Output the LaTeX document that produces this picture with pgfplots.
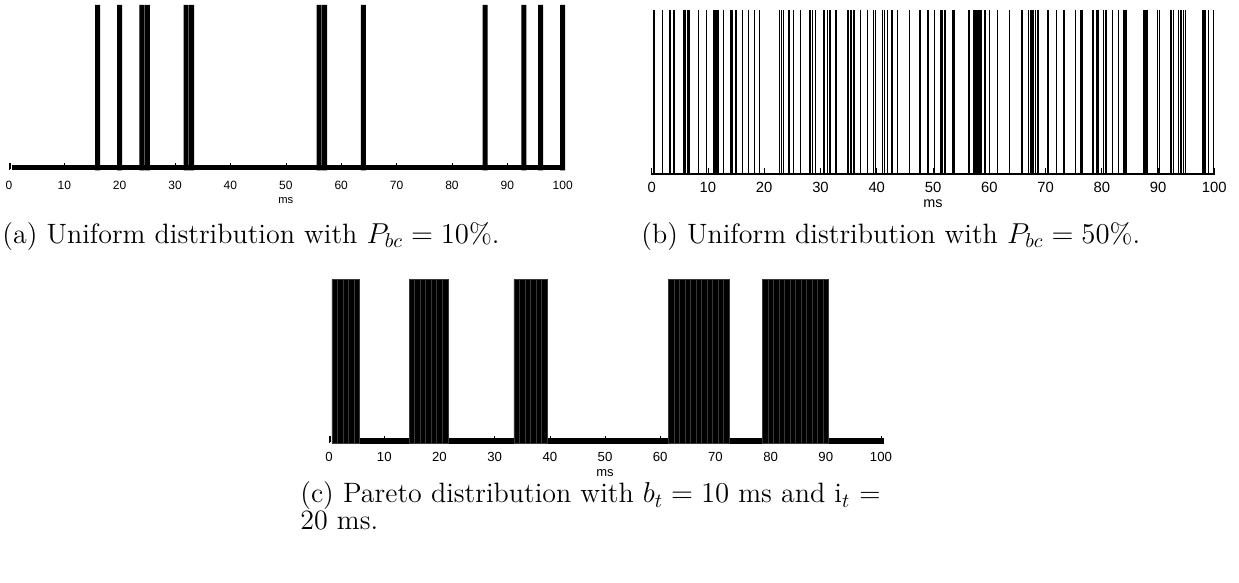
\documentclass[border=0pt]{standalone}
\usepackage{pgfplots}
\pgfplotsset{compat=1.18}
\usepackage{fontspec}
\newfontfamily\helv{Liberation Sans}

% shared look of the three slot plots
\pgfplotsset{
  slots/.style={
    scale only axis, xmin=0, xmax=100, ymin=0, ymax=1, clip=false,
    axis line style={draw=none}, ytick=\empty,
    xtick={0,10,...,100}, xtick pos=bottom, tick align=inside,
    major tick length=3.5pt, tick style={black, line width=0.3pt},
    /pgf/number format/assume math mode=true,
    xlabel={ms},
    xlabel style={at={(axis description cs:0.5,0)}, anchor=center},
  },
}

\begin{document}
\begin{tikzpicture}[x=0.5pt, y=0.5pt]
\useasboundingbox (0,0) rectangle (1239,583);

% ---------------- (a) uniform, 10 % ----------------
\begin{axis}[slots, at={(4.45pt,206.25pt)}, anchor=south west,
    width=276.9pt, height=82.75pt,
    xticklabel style={font=\helv\fontsize{6}{7}\selectfont, yshift=-1.6pt},
    xlabel style={font=\helv\fontsize{5.6}{6}\selectfont, yshift=-15.25pt}]
  \addplot[black, line width=2.8pt] coordinates {(0.55,0.017) (100.45,0.017)};
  \addplot[ybar, bar width=0.9, fill=black, draw=none] coordinates {
    (16,1) (20,1) (24,1) (25,1) (32,1) (33,1) (56,1) (57,1)
    (64,1) (86,1) (93,1) (96,1) (100,1)};
  \draw[line width=0.4pt] (axis cs:0.2,0.01) -- (axis cs:0.2,0.045);
\end{axis}

% ---------------- (b) uniform, 50 % ----------------
\begin{axis}[slots, at={(325.85pt,203.75pt)}, anchor=south west,
    width=281.3pt, height=82.75pt,
    xticklabel style={font=\helv\fontsize{7.4}{8}\selectfont, yshift=0pt},
    xlabel style={font=\helv\fontsize{7.2}{8}\selectfont, yshift=-14pt}]
  \addplot[black, line width=1pt] coordinates {(0,0.006) (100,0.006)};
  \addplot[ycomb, black, line width=0.65pt, no marks] coordinates {
    (0.41,1) (1.96,1) (3.14,1) (3.38,1) (3.97,1) (5.75,1) (6.04,1) (6.40,1)
    (6.64,1) (8.30,1) (9.78,1) (10.96,1) (11.20,1) (11.44,1) (11.73,1) (11.91,1)
    (12.74,1) (14.04,1) (14.28,1) (14.99,1) (16.18,1) (17.19,1) (18.25,1) (19.20,1)
    (22.76,1) (23.05,1) (23.41,1) (24.41,1) (25.19,1) (26.49,1) (28.03,1) (28.27,1)
    (28.62,1) (29.10,1) (30.52,1) (30.76,1) (31.23,1) (31.70,1) (32.77,1) (34.79,1)
    (35.02,1) (35.32,1) (35.56,1) (35.97,1) (37.16,1) (38.40,1) (39.47,1) (39.82,1)
    (41.07,1) (41.36,1) (41.96,1) (42.73,1) (43.73,1) (45.80,1) (47.70,1) (49.10,1)
    (50.30,1) (51.43,1) (51.66,1) (52.14,1) (53.57,1) (53.80,1) (56.42,1) (57.31,1)
    (57.49,1) (57.73,1) (57.97,1) (58.20,1) (58.44,1) (58.68,1) (59.22,1) (60.10,1)
    (61.42,1) (63.56,1) (65.81,1) (67.00,1) (67.30,1) (67.60,1) (67.90,1) (68.19,1)
    (68.67,1) (70.45,1) (72.00,1) (73.30,1) (75.33,1) (76.28,1) (76.52,1) (78.42,1)
    (79.13,1) (79.37,1) (80.32,1) (80.62,1) (80.80,1) (81.87,1) (83.00,1) (83.95,1)
    (84.19,1) (84.42,1) (87.46,1) (87.69,1) (88.05,1) (89.90,1) (90.31,1) (92.21,1)
    (92.45,1) (92.69,1) (93.58,1) (94.06,1) (94.47,1) (94.83,1) (97.86,1) (98.16,1)
    (98.45,1) (98.93,1) (99.82,1)};
\end{axis}

% ---------------- (c) Pareto bursts ----------------
\begin{axis}[slots, at={(164.55pt,69.75pt)}, anchor=south west,
    width=275.95pt, height=82.1pt,
    xticklabel style={font=\helv\fontsize{6.6}{7}\selectfont, yshift=-1pt},
    xlabel style={font=\helv\fontsize{6.5}{7}\selectfont, yshift=-15pt}]
  \addplot[black, line width=2.85pt] coordinates {(0.5,0.017) (100.5,0.017)};
  \addplot[ybar, bar width=1, fill=black, draw={rgb,255:red,55;green,55;blue,55},
           line width=0.25pt] coordinates {
    (1,1) (2,1) (3,1) (4,1) (5,1)
    (15,1) (16,1) (17,1) (18,1) (19,1) (20,1) (21,1)
    (34,1) (35,1) (36,1) (37,1) (38,1) (39,1)
    (62,1) (63,1) (64,1) (65,1) (66,1) (67,1) (68,1) (69,1) (70,1) (71,1) (72,1)
    (79,1) (80,1) (81,1) (82,1) (83,1) (84,1) (85,1) (86,1) (87,1) (88,1) (89,1) (90,1)};
  \draw[line width=0.4pt] (axis cs:0.3,0.01) -- (axis cs:0.3,0.045);
\end{axis}

% ---------------- captions ----------------
\begin{scope}[every node/.style={anchor=base west, inner sep=0pt,
      font=\fontsize{14}{16}\selectfont}]
  \node at (2,339.5)   {(a) Uniform distribution with $P_{bc} = 10\%$.};
  \node at (641,339.5) {(b) Uniform distribution with $P_{bc} = 50\%$.};
  \node at (300,80)    {(c) Pareto distribution with $b_t = 10$ ms and i$_t$ =};
  \node at (300,53)    {20 ms.};
\end{scope}
\end{tikzpicture}
\end{document}
